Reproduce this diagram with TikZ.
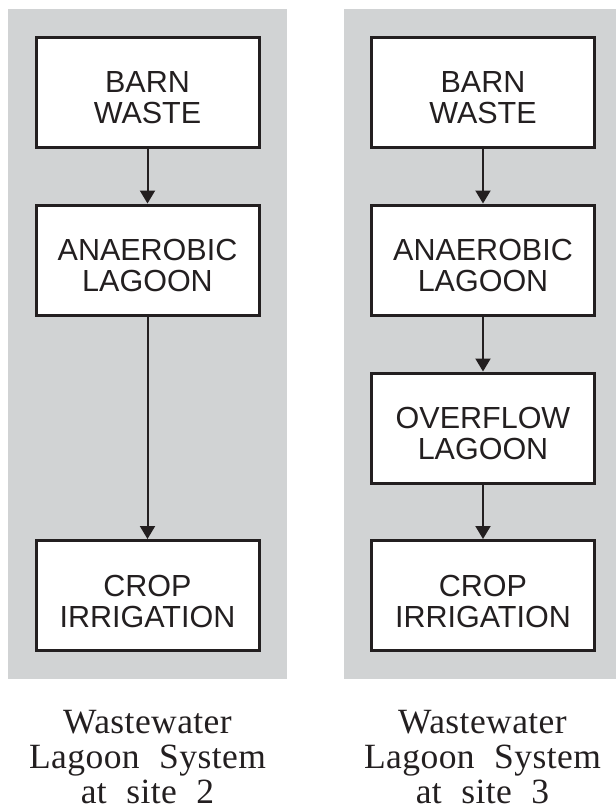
\documentclass[tikz,border=0pt]{standalone}
\usepackage{fontspec}
\setmainfont{Liberation Serif}
\newfontfamily\boxfont{Liberation Sans}
\newfontfamily\capfont[LetterSpace=1.2]{Liberation Serif}
\usetikzlibrary{arrows.meta}
\definecolor{panelgray}{RGB}{209,211,212}
\definecolor{inkk}{RGB}{35,31,32}
\newcommand{\wsp}{\hspace{0.55em}}
\begin{document}
\begin{tikzpicture}[x=1pt,y=-1pt,
  panel/.style={fill=panelgray,draw=none},
  flowbox/.style={draw=inkk,fill=white,line width=3pt,minimum width=223pt,minimum height=110pt,
    inner sep=0pt,align=center,text=inkk,font=\boxfont\fontsize{30.5pt}{31pt}\selectfont},
  flowarrow/.style={draw=inkk,line width=2pt,-{Triangle[width=15pt,length=13pt]}},
  caption/.style={anchor=north,inner sep=0pt,align=center,text=inkk,
    font=\capfont\fontsize{35.5pt}{35pt}\selectfont}]
\useasboundingbox (0,0) rectangle (616,812);
% panels
\fill[panel] (8,9) rectangle (287,679);
\fill[panel] (344,9) rectangle (616,679);
% left system
\node[flowbox] (l1) at (147.5,92) {\rule{0pt}{33pt}BARN\\WASTE};
\node[flowbox] (l2) at (147.5,260) {\rule{0pt}{33pt}ANAEROBIC\\LAGOON};
\node[flowbox] (l3) at (147.5,595.5) {\rule{0pt}{33pt}CROP\\IRRIGATION};
\draw[flowarrow] (l1.south) -- (l2.north);
\draw[flowarrow] (l2.south) -- (l3.north);
% right system
\node[flowbox] (r1) at (483,92) {\rule{0pt}{33pt}BARN\\WASTE};
\node[flowbox] (r2) at (483,260) {\rule{0pt}{33pt}ANAEROBIC\\LAGOON};
\node[flowbox] (r3) at (483,428) {\rule{0pt}{33pt}OVERFLOW\\LAGOON};
\node[flowbox] (r4) at (483,595.5) {\rule{0pt}{33pt}CROP\\IRRIGATION};
\draw[flowarrow] (r1.south) -- (r2.north);
\draw[flowarrow] (r2.south) -- (r3.north);
\draw[flowarrow] (r3.south) -- (r4.north);
% captions
\node[caption] (capl) at (147.5,710) {Wastewater\\Lagoon\wsp System\\at\wsp site\wsp 2};
\node[caption] (capr) at (482.5,710) {Wastewater\\Lagoon\wsp System\\at\wsp site\wsp 3};
\end{tikzpicture}
\end{document}
